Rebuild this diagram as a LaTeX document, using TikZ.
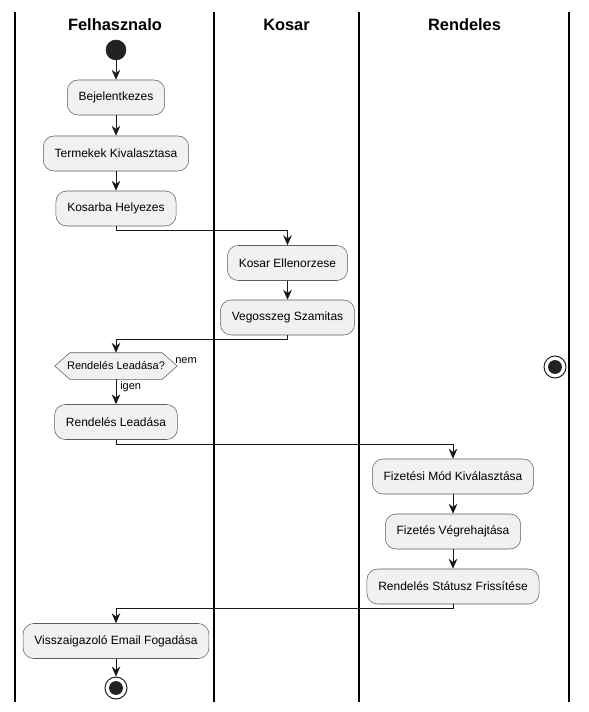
\documentclass[tikz,border=0pt]{standalone}
\usepackage{fontspec}
\setmainfont{Liberation Sans}
\usetikzlibrary{arrows.meta,calc}
\definecolor{actfill}{HTML}{F1F1F1}
\definecolor{actline}{HTML}{181818}
\definecolor{dotc}{HTML}{222222}
\tikzset{
  act/.style={draw=actline!70, fill=actfill, line width=0.4pt, rounded corners=8pt,
    minimum height=26.25pt, inner xsep=8.5pt, inner ysep=0pt, font=\fontsize{9}{11}\selectfont},
  arr/.style={draw=actline, line width=0.75pt, -{Stealth[length=7.5pt,width=6.5pt,inset=2.5pt]}},
  lane/.style={draw=black, line width=1.1pt},
  hdr/.style={font=\bfseries\fontsize{12.3}{14}\selectfont, inner sep=0pt},
  lbl/.style={font=\fontsize{8.25}{10}\selectfont, inner sep=0pt},
  startdot/.style={circle, fill=dotc, draw=dotc, minimum size=15pt, inner sep=0pt},
  enddot/.style={circle, draw=dotc, fill=white, line width=0.75pt, minimum size=16.5pt, inner sep=0pt},
}
\begin{document}
\begin{tikzpicture}[x=0.75pt,y=-0.75pt]
\useasboundingbox (0,0) rectangle (588,712);
% lanes
\draw[lane] (15,12) -- (15,702);
\draw[lane] (214,12) -- (214,702);
\draw[lane] (359,12) -- (359,702);
\draw[lane] (569,12) -- (569,702);
\node[hdr] (h1) at (115,25) {Felhasznalo};
\node[hdr] (h2) at (286.5,25) {Kosar};
\node[hdr] (h3) at (464.5,25) {Rendeles};
% nodes
\node[startdot] (start) at (116,50) {};
\node[act] (bej) at (116,97.5) {Bejelentkezes};
\node[act] (term) at (116,153.5) {Termekek Kivalasztasa};
\node[act] (kos) at (116,208.5) {Kosarba Helyezes};
\node[act] (kell) at (287.5,263) {Kosar Ellenorzese};
\node[act] (veg) at (287.5,317.5) {Vegosszeg Szamitas};
\node[inner sep=0pt, minimum width=91.5pt, minimum height=19.5pt, font=\fontsize{8.25}{10}\selectfont] (dec) at (116,366) {Rendelés Leadása?};
\draw[draw=actline!70, fill=actfill, line width=0.4pt]
  (dec.west) -- ($(dec.north west)+(15,0)$) -- ($(dec.north east)+(-15,0)$) -- (dec.east)
  -- ($(dec.south east)+(-15,0)$) -- ($(dec.south west)+(15,0)$) -- cycle;
\node[inner sep=0pt, font=\fontsize{8.25}{10}\selectfont] (dect) at (dec) {Rendelés Leadása?};
\node[lbl, anchor=west] (nem) at (175,361) {nem};
\node[lbl, anchor=west] (igen) at (120,386.5) {igen};
\node[act] (rl) at (116,422) {Rendelés Leadása};
\node[act] (fiz) at (453,476.5) {Fizetési Mód Kiválasztása};
\node[act] (fvh) at (453,531.5) {Fizetés Végrehajtása};
\node[act] (rsf) at (453,586.5) {Rendelés Státusz Frissítése};
\node[act] (vis) at (116,641) {Visszaigazoló Email Fogadása};
\node[enddot] (end1) at (116,688) {};
\fill[dotc] (end1) circle (5.2pt);
\node[enddot] (end2) at (555,367) {};
\fill[dotc] (end2) circle (5.2pt);
% edges
\draw[arr] (start) -- (bej);
\draw[arr] (bej) -- (term);
\draw[arr] (term) -- (kos);
\draw[arr] (kos.south) -- ++(0,4) -| (kell.north);
\draw[arr] (kell) -- (veg);
\draw[arr] (veg.south) -- ++(0,4) -| (dec.north);
\draw[arr] (dec.south) -- (rl.north);
\draw[arr] (rl.south) -- ++(0,5) -| (fiz.north);
\draw[arr] (fiz) -- (fvh);
\draw[arr] (fvh) -- (rsf);
\draw[arr] (rsf.south) -- ++(0,4.5) -| (vis.north);
\draw[arr] (vis) -- (end1);
\end{tikzpicture}
\end{document}
